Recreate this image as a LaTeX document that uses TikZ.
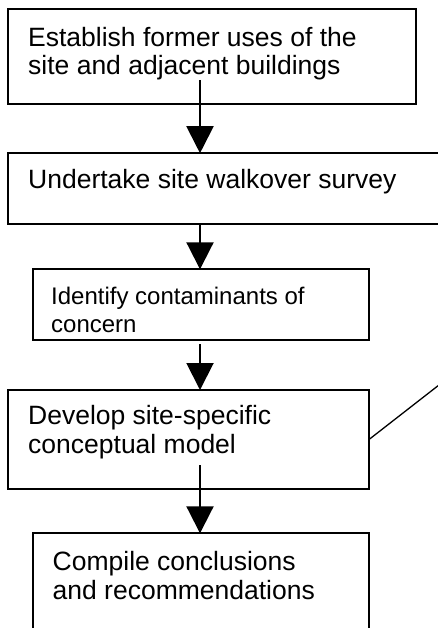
\documentclass[tikz,border=0pt]{standalone}
\usepackage{fontspec}
\setmainfont{Liberation Sans}
\usetikzlibrary{arrows.meta}
\tikzset{
  box/.style={draw, line width=2pt, inner sep=0pt, outer sep=0pt, anchor=north west},
  txt/.style={anchor=base west, align=left, inner sep=0pt, font=\fontsize{26.5}{28.4}\selectfont},
  smalltxt/.style={txt, font=\fontsize{24}{28.4}\selectfont},
  flow/.style={line width=2pt, -{Triangle[width=27pt,length=27pt]}},
  thin line/.style={line width=1.3pt}
}
\begin{document}
\begin{tikzpicture}[x=1pt,y=-1pt]
\useasboundingbox (0,0) rectangle (438,628);
\clip (0,0) rectangle (438,628);
% boxes
\node[box, minimum width=407.4pt, minimum height=94.4pt] (b1) at (8.3,9.3) {};
\node[box, minimum width=450pt, minimum height=70.5pt] (b2) at (8.3,153.2) {};
\node[box, minimum width=336.3pt, minimum height=71pt] (b3) at (32.7,269.3) {};
\node[box, minimum width=360.7pt, minimum height=99pt] (b4) at (8.3,390) {};
\node[box, minimum width=336.3pt, minimum height=110pt] (b5) at (32.7,533.3) {};
% texts (base anchor = last line)
\node[txt] (t1) at (28,75) {Establish former uses of the\\site and adjacent buildings};
\node[txt] (t2) at (28,188.3) {Undertake site walkover survey};
\node[smalltxt] (t3) at (51,332.7) {Identify contaminants of\\concern};
\node[txt] (t4) at (28,453.3) {Develop site-specific\\conceptual model};
\node[txt] (t5) at (52.5,599.3) {Compile conclusions\\and recommendations};
% arrow starts
\coordinate (s1) at (200,80);
\coordinate (s2) at (200,223.7);
\coordinate (s3) at (200,344);
\coordinate (s4) at (200,465);
\coordinate (d) at (450,376.4);
% connectors
\draw[flow] (s1) -- (s1 |- b2.north);
\draw[flow] (s2) -- (s2 |- b3.north);
\draw[flow] (s3) -- (s3 |- b4.north);
\draw[flow] (s4) -- (s4 |- b5.north);
\draw[thin line] (b4.east) -- (d);
\end{tikzpicture}
\end{document}
